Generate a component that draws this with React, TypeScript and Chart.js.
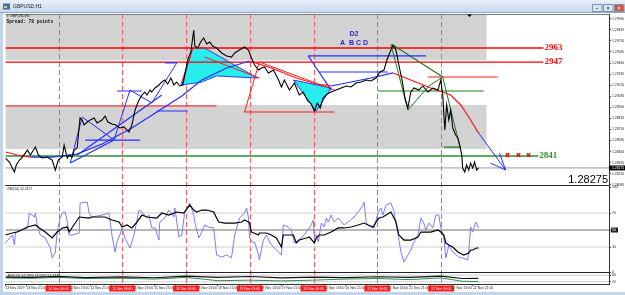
import React, { useEffect, useRef } from 'react';
import { Chart, registerables } from 'chart.js';

Chart.register(...registerables);

// ---------- data ----------
const symbolTitle = 'GBPUSD,H1';
const spreadText = 'Spread: 78 points';
const rsiTitle = 'RSI(14) 52.4117';
const indTitle = 'ADX(14) 24.1893 18.5637 14.2715';
const lastPrice = 1.28275;
const X_MAX = 227.2;

const timeLabels = ['13 Nov 2019', '13 Nov 21:00', '14 Nov 05:00', '14 Nov 13:00', '14 Nov 21:00', '15 Nov 05:00', '15 Nov 13:00', '15 Nov 21:00', '18 Nov 05:00', '18 Nov 13:00', '18 Nov 21:00', '19 Nov 05:00', '19 Nov 13:00', '19 Nov 21:00', '20 Nov 05:00', '20 Nov 13:00', '20 Nov 21:00', '21 Nov 05:00', '21 Nov 13:00', '21 Nov 21:00', '22 Nov 05:00', '22 Nov 13:00', '22 Nov 21:00'];
const separatorBars = [20, 44, 68, 92, 116, 140, 164];
const separatorLabels = ['14 Nov 09:00', '15 Nov 09:00', '18 Nov 09:00', '19 Nov 09:00', '20 Nov 09:00', '21 Nov 09:00', '22 Nov 09:00'];

const priceTicks = [1.2996, 1.29835, 1.2971, 1.29585, 1.2946, 1.29335, 1.2921, 1.29085, 1.2896, 1.28835, 1.2871, 1.28585, 1.2846, 1.28335, 1.2821, 1.28085];
const rsiTicks = [0, 30, 50, 70, 100];
const indTicks = [20, 80];

const priceBars = [0, 1.5, 2.6, 3.4, 4.1, 5.3, 6.4, 8.3, 9.4, 10.1, 11.3, 12.4, 13.9, 15.8, 17.6, 18.8, 19.9, 21.4, 22.1, 23.3, 24.0, 25.1, 25.9, 27.0, 28.1, 28.9, 29.6, 30.8, 31.9, 33.4, 34.5, 36.4, 37.5, 38.6, 40.1, 41.6, 43.1, 44.6, 45.8, 46.5, 47.6, 48.8, 49.5, 50.3, 51.4, 52.5, 53.3, 54.4, 55.1, 56.3, 57.8, 58.9, 60.0, 61.1, 62.3, 63.4, 64.5, 65.6, 66.8, 67.5, 68.6, 69.8, 70.9, 71.3, 72.4, 73.5, 74.6, 75.8, 76.9, 78.0, 79.5, 81.4, 83.3, 85.1, 86.3, 88.1, 90.0, 91.5, 92.6, 93.8, 95.3, 96.4, 97.5, 99.0, 100.9, 102.8, 103.9, 105.0, 106.9, 108.8, 110.6, 112.1, 113.6, 115.1, 116.3, 117.4, 118.5, 119.6, 121.1, 122.6, 124.5, 126.4, 128.3, 130.1, 132.0, 133.9, 135.8, 137.6, 139.5, 141.0, 142.5, 143.6, 144.8, 145.9, 147.0, 148.1, 149.3, 150.4, 151.5, 152.6, 153.8, 155.6, 157.1, 159.0, 160.9, 162.8, 163.9, 164.6, 165.4, 166.1, 166.9, 167.6, 168.4, 169.5, 170.3, 171.0, 171.8, 172.1, 172.9, 173.6, 174.4, 175.1, 175.9, 176.6, 177.4, 178.1];
const priceCloses = [1.28387, 1.28342, 1.28274, 1.28229, 1.28308, 1.28364, 1.28398, 1.28477, 1.28421, 1.28455, 1.28511, 1.28421, 1.28387, 1.28398, 1.28364, 1.28251, 1.28364, 1.28398, 1.28534, 1.28387, 1.28421, 1.28398, 1.28477, 1.285, 1.28839, 1.28816, 1.2876, 1.28794, 1.28816, 1.28839, 1.28783, 1.28816, 1.28862, 1.28794, 1.28771, 1.2876, 1.28726, 1.28738, 1.28703, 1.28681, 1.2876, 1.28929, 1.28986, 1.29042, 1.29099, 1.29133, 1.29099, 1.29155, 1.29133, 1.29178, 1.29212, 1.29246, 1.29268, 1.29223, 1.29291, 1.29212, 1.29246, 1.29201, 1.29212, 1.29325, 1.29494, 1.29585, 1.29833, 1.29653, 1.2963, 1.29698, 1.29743, 1.29675, 1.29698, 1.29653, 1.2963, 1.29574, 1.2954, 1.29528, 1.29574, 1.29607, 1.29641, 1.29607, 1.29517, 1.29438, 1.29381, 1.29404, 1.29415, 1.29348, 1.29381, 1.29268, 1.29189, 1.29268, 1.29155, 1.29234, 1.29099, 1.29133, 1.29042, 1.28997, 1.28918, 1.29009, 1.28952, 1.29065, 1.2911, 1.29133, 1.29155, 1.29178, 1.29201, 1.29189, 1.29234, 1.29246, 1.29268, 1.29257, 1.29291, 1.29359, 1.29381, 1.29494, 1.29585, 1.29664, 1.29607, 1.29438, 1.29268, 1.29065, 1.28952, 1.29133, 1.29178, 1.29155, 1.29201, 1.29133, 1.29178, 1.29155, 1.29268, 1.29099, 1.28703, 1.28986, 1.28816, 1.28929, 1.28726, 1.28647, 1.28613, 1.28534, 1.28421, 1.28274, 1.28229, 1.28308, 1.28251, 1.2833, 1.28274, 1.28342, 1.28251, 1.28275];

const maBars = [0, 4.5, 9.4, 17.6, 27.0, 36.4, 47.6, 57.0, 66.4, 73.9, 83.3, 91.9, 100.1, 109.5, 117.0, 122.6, 130.1, 137.6, 145.9, 152.6, 160.1, 167.6, 171.4, 174.4, 178.1];
const maValues = [1.28455, 1.28421, 1.28398, 1.28398, 1.28432, 1.28545, 1.28726, 1.28907, 1.29088, 1.29268, 1.29404, 1.29483, 1.29404, 1.29291, 1.29223, 1.29201, 1.29246, 1.29291, 1.29348, 1.29268, 1.29178, 1.29099, 1.28986, 1.2885, 1.28669];

const rsiBars = [0, 2.6, 3.4, 3.8, 6.4, 8.3, 9.0, 10.9, 11.3, 12.0, 13.1, 15.0, 16.9, 17.6, 18.8, 19.5, 20.6, 21.4, 22.5, 23.3, 24.0, 25.1, 27.8, 28.1, 30.8, 31.5, 32.6, 36.4, 39.0, 40.1, 41.3, 42.0, 43.1, 43.9, 45.0, 46.9, 48.4, 50.3, 51.4, 53.3, 54.0, 55.1, 56.3, 57.8, 58.1, 60.0, 61.5, 63.4, 63.8, 65.3, 66.4, 67.5, 69.4, 70.9, 71.3, 72.8, 73.9, 75.0, 76.5, 78.4, 78.8, 79.5, 81.4, 83.3, 85.1, 86.3, 88.1, 90.0, 90.8, 91.5, 91.9, 93.4, 93.8, 95.3, 95.6, 97.1, 98.3, 99.4, 100.9, 102.0, 103.9, 104.6, 106.5, 107.6, 108.8, 111.4, 113.3, 115.1, 115.9, 116.3, 117.0, 117.8, 118.9, 120.0, 120.8, 121.5, 122.6, 123.8, 125.3, 127.5, 129.0, 131.3, 132.8, 134.6, 135.0, 135.8, 136.5, 137.6, 138.8, 140.3, 141.4, 142.1, 143.3, 145.1, 146.3, 147.8, 148.9, 150.0, 152.6, 153.8, 155.3, 156.4, 157.5, 158.3, 159.4, 160.9, 162.0, 163.1, 163.9, 165.0, 165.8, 166.5, 166.9, 168.4, 170.6, 172.1, 174.0, 174.4, 175.1, 175.9, 177.0, 178.1];
const rsiValues = [34.7, 44.1, 32.4, 47.6, 50, 52.4, 70, 65.3, 70, 55.9, 44.1, 40.6, 28.8, 17.1, 24.1, 47.6, 64.1, 70, 71.2, 59.4, 44.1, 44.1, 46.5, 81.8, 82.9, 70, 65.3, 67.6, 70, 44.1, 24.1, 35.9, 44.1, 52.4, 40.6, 28.8, 44.1, 73.5, 71.2, 64.1, 67.6, 52.4, 52.4, 38.2, 59.4, 64.1, 73.5, 65.3, 75.9, 41.8, 44.1, 71.2, 81.8, 67.6, 59.4, 40.6, 47.6, 55.9, 53.5, 52.4, 40.6, 20.6, 18.2, 20.6, 17.1, 44.1, 64.1, 70, 75.9, 64.1, 40.6, 34.7, 35.9, 20.6, 14.7, 38.2, 44.1, 35.9, 30, 26.5, 20.6, 55.9, 53.5, 50, 34.7, 40.6, 47.6, 55.9, 61.8, 40.6, 44.1, 35.9, 58.2, 53.5, 64.1, 59.4, 67.6, 59.4, 64.1, 55.9, 59.4, 65.3, 71.2, 79.4, 82.9, 59.4, 55.9, 53.5, 52.4, 71.2, 75.9, 67.6, 79.4, 81.8, 71.2, 44.1, 24.1, 12.4, 26.5, 35.9, 44.1, 64.1, 58.2, 50, 58.2, 52.4, 67.6, 67.6, 52.4, 41.8, 17.1, 26.5, 32.4, 24.1, 18.2, 17.1, 14.7, 24.1, 53.5, 47.6, 59.4, 52.4];

const signalBars = [0, 2.6, 4.5, 8.3, 11.3, 12.8, 15.0, 17.6, 19.5, 21.4, 23.3, 24.0, 27.8, 31.5, 32.6, 37.5, 40.1, 42.8, 43.9, 45.8, 47.6, 49.5, 51.4, 53.3, 57.0, 58.9, 61.5, 64.5, 67.1, 69.4, 70.9, 72.0, 73.9, 75.8, 78.4, 79.5, 80.3, 82.5, 86.3, 88.9, 90.0, 91.5, 91.9, 92.6, 95.3, 95.6, 98.3, 100.1, 102.0, 103.9, 104.6, 106.5, 108.4, 109.5, 110.6, 113.3, 114.4, 116.3, 117.0, 118.1, 120.0, 122.6, 125.3, 127.5, 130.1, 132.8, 135.0, 136.5, 138.4, 139.5, 140.6, 142.1, 143.3, 145.1, 147.0, 148.1, 150.0, 152.6, 155.3, 156.4, 160.1, 162.8, 163.9, 165.0, 165.8, 166.9, 168.4, 170.3, 172.5, 174.4, 175.1, 175.9, 177.4, 178.1];
const signalValues = [44.1, 46.5, 47.6, 53.5, 55.9, 52.4, 47.6, 40.6, 47.6, 52.4, 53.5, 47.6, 65.3, 64.1, 65.3, 65.3, 61.8, 59.4, 53.5, 55.9, 52.4, 59.4, 67.6, 65.3, 64.1, 70, 67.6, 71.2, 70, 79.4, 73.5, 71.2, 73.5, 73.5, 71.2, 64.1, 59.4, 58.2, 58.2, 59.4, 61.8, 59.4, 58.2, 47.6, 44.1, 46.5, 46.5, 44.1, 40.6, 30, 44.1, 44.1, 44.1, 34.7, 38.2, 40.6, 41.8, 34.7, 40.6, 44.1, 44.1, 47.6, 52.4, 52.4, 53.5, 55.9, 58.2, 55.9, 53.5, 59.4, 64.1, 65.3, 67.6, 71.2, 59.4, 44.1, 38.2, 38.2, 41.8, 47.6, 47.6, 50, 47.6, 44.1, 34.7, 32.4, 30, 24.1, 20.6, 22.9, 26.5, 26.5, 28.8, 28.8];
const rsiLevels = [30, 50, 70];

const indBars = [0, 10, 20, 30, 44, 56, 68, 80, 92, 104, 116, 128, 140, 152, 164, 172, 178];
const indMain = [62, 60, 70, 58, 64, 57, 72, 60, 68, 55, 62, 58, 66, 60, 72, 50, 52];
const indSignal = [55, 52, 60, 50, 52, 45, 60, 30, 35, 28, 35, 45, 50, 40, 55, 25, 22];
const indLevels = [20, 80];

// supply / demand zones: [startBar, endBar, top, bottom]
const zoneStartBars = [0, 0];
const zoneEndBars = [181.1, 181.1];
const zoneTops = [1.30014, 1.28986];
const zoneBottoms = [1.29494, 1.28489];

// labelled levels
const levelLabels = ['2963', '2947', '2841'];
const levelPrices = [1.2963, 1.2947, 1.2841];
const levelEndBars = [202.5, 202.5, 200.6];

// pattern drawings (bar, price pairs)
const xabcdBars = [24.4, 28.9, 40.9, 46.9, 55.1, 64.5];
const xabcdPrices = [1.2833, 1.2885, 1.2859, 1.29155, 1.29009, 1.29461];
const cyanABars = [66.4, 70.5, 75.0, 94.9, 79.5, 73.9, 66.4];
const cyanAPrices = [1.29212, 1.2963, 1.2963, 1.29291, 1.29314, 1.29246, 1.29212];
const cyanBBars = [108.4, 122.6, 117.0, 108.4];
const cyanBPrices = [1.29268, 1.29178, 1.28918, 1.29268];
const greenZigBars = [145.1, 151.5, 159.4, 164.6, 171.4];
const greenZigPrices = [1.29675, 1.28929, 1.29201, 1.29302, 1.28477];
const blueSegments = [
  [24.4, 1.2833, 40.9, 1.2859], [27.0, 1.28421, 58.9, 1.29099], [30, 1.2859, 50.6, 1.2859],
  [42, 1.29144, 51.4, 1.29144], [57, 1.28918, 68.6, 1.28918], [60, 1.29461, 64.5, 1.29461],
  [114, 1.2954, 158.3, 1.2954], [118.1, 1.29359, 144, 1.29359], [114, 1.2954, 122.6, 1.29155],
];
const redSegments = [
  [90, 1.28907, 123.8, 1.28907], [90, 1.28907, 95.6, 1.29472], [95.6, 1.29472, 123.8, 1.29155],
  [159, 1.29302, 185.3, 1.29302], [0, 1.28975, 79.5, 1.28975], [66.0, 1.29212, 70.5, 1.29619],
  [75.0, 1.29528, 95.6, 1.29291],
];
const greenSegments = [
  [140.3, 1.29144, 180, 1.29144], [165, 1.28511, 171.4, 1.28511], [145.9, 1.29664, 164.6, 1.29302],
];
const arrowSegments = [
  [178.1, 1.28669, 188.3, 1.28251], [188.3, 1.28251, 182.6, 1.2833], [188.3, 1.28251, 186.0, 1.28443],
];
const crossBars = [189, 193.1, 196.9];
const crossPrices = [1.28421, 1.28421, 1.28421];

// ---------- helpers ----------
const zip = (xs: number[], ys: number[]) => xs.map((x, i) => ({ x, y: ys[i] }));
const segPoints = (list: number[][]) => {
  const out: { x: number; y: number | null }[] = [];
  for (const [x1, y1, x2, y2] of list) out.push({ x: x1, y: y1 }, { x: x2, y: y2 }, { x: x2, y: null });
  return out;
};
const line = (data: any[], color: string, yAxisID = 'y', extra: any = {}) => ({
  type: 'line', data, borderColor: color, backgroundColor: color, borderWidth: 1, pointRadius: 0,
  tension: 0, fill: false, yAxisID, xAxisID: 'x', spanGaps: false, ...extra,
});

const SANS = "'Liberation Sans', Arial, sans-serif";
const SMALL = 3.4;

const chromePlugin = {
  id: 'mtChrome',
  beforeDraw(chart: any) {
    const { ctx, width, height } = chart;
    ctx.save();
    ctx.fillStyle = '#c3d4ea';
    ctx.fillRect(0, 0, width, height);
    const g = ctx.createLinearGradient(0, 0, 0, 13);
    g.addColorStop(0, '#e9f0fa');
    g.addColorStop(1, '#c6d7ee');
    ctx.fillStyle = g;
    ctx.fillRect(0, 0, width, 13);
    ctx.fillStyle = '#ffffff';
    ctx.fillRect(3, 13, width - 3, 279);
    ctx.strokeStyle = '#8ea7c9';
    ctx.lineWidth = 1;
    ctx.beginPath();
    ctx.moveTo(0, 12.5); ctx.lineTo(width, 12.5);
    ctx.stroke();
    ctx.restore();
  },
  beforeDatasetsDraw(chart: any) {
    const { ctx, chartArea, scales } = chart;
    const x = scales.x, y = scales.y;
    ctx.save();
    ctx.beginPath();
    ctx.rect(chartArea.left, y.top, chartArea.right - chartArea.left, y.bottom - y.top);
    ctx.clip();
    ctx.fillStyle = '#d3d3d3';
    zoneTops.forEach((t, i) => {
      const x1 = x.getPixelForValue(zoneStartBars[i]);
      const x2 = x.getPixelForValue(zoneEndBars[i]);
      const y1 = y.getPixelForValue(t);
      const y2 = y.getPixelForValue(zoneBottoms[i]);
      ctx.fillRect(x1, y1, x2 - x1, y2 - y1);
    });
    ctx.restore();
    ctx.save();
    ctx.strokeStyle = '#ff5a5a';
    ctx.lineWidth = 1;
    ctx.setLineDash([5, 3]);
    separatorBars.forEach((b) => {
      const px = Math.round(x.getPixelForValue(b)) + 0.5;
      ctx.beginPath();
      ctx.moveTo(px, chartArea.top);
      ctx.lineTo(px, chartArea.bottom);
      ctx.stroke();
    });
    ctx.restore();
  },
  afterDatasetsDraw(chart: any) {
    const { ctx, scales } = chart;
    const x = scales.x, y = scales.y;
    ctx.save();
    ctx.textBaseline = 'middle';
    ctx.textAlign = 'left';
    ctx.font = "bold 9px 'Liberation Serif', 'Times New Roman', serif";
    levelLabels.forEach((lab, i) => {
      ctx.fillStyle = i < 2 ? '#ff1010' : '#2f8f2f';
      ctx.fillText(lab, x.getPixelForValue(levelEndBars[i]) + 1, y.getPixelForValue(levelPrices[i]));
    });
    ctx.fillStyle = '#2a2ad8';
    ctx.textAlign = 'center';
    ctx.font = `bold 7px ${SANS}`;
    ctx.fillText('D2', x.getPixelForValue(131.2), y.getPixelForValue(1.29788));
    ctx.fillText('A  B C D', x.getPixelForValue(131.2), y.getPixelForValue(1.29682));
    ctx.fillStyle = '#000';
    ctx.textAlign = 'right';
    ctx.textBaseline = 'alphabetic';
    ctx.font = `11px ${SANS}`;
    ctx.fillText(lastPrice.toFixed(5), x.right - 1, y.bottom - 3);
    ctx.restore();
  },
  afterDraw(chart: any) {
    const { ctx, chartArea, scales, width } = chart;
    const x = scales.x, y = scales.y, rsi = scales.rsi;
    ctx.save();
    // pane separators
    ctx.strokeStyle = '#222';
    ctx.lineWidth = 1;
    [y.bottom, rsi.bottom].forEach((py: number) => {
      ctx.beginPath();
      ctx.moveTo(chartArea.left, Math.round(py) - 0.5);
      ctx.lineTo(chartArea.right, Math.round(py) - 0.5);
      ctx.stroke();
    });
    ctx.strokeStyle = '#777';
    ctx.beginPath();
    ctx.moveTo(chartArea.left, chartArea.top + 0.5);
    ctx.lineTo(chartArea.right, chartArea.top + 0.5);
    ctx.stroke();
    // red time boxes
    separatorBars.forEach((b, i) => {
      const px = x.getPixelForValue(b);
      ctx.fillStyle = '#ff1a1a';
      ctx.fillRect(px - 13, chartArea.bottom + 1.5, 26, 6);
      ctx.fillStyle = '#ffffff';
      ctx.font = `${SMALL}px ${SANS}`;
      ctx.textAlign = 'center';
      ctx.textBaseline = 'middle';
      ctx.fillText(separatorLabels[i], px, chartArea.bottom + 4.6);
    });
    // axis value boxes
    const py = y.getPixelForValue(lastPrice);
    ctx.fillStyle = '#000';
    ctx.fillRect(chartArea.right, py - 2.5, width - chartArea.right, 5);
    ctx.fillStyle = '#fff';
    ctx.textAlign = 'left';
    ctx.fillText(lastPrice.toFixed(5), chartArea.right + 3, py + 0.2);
    const p50 = rsi.getPixelForValue(50);
    ctx.fillStyle = '#222';
    ctx.fillRect(chartArea.right + 2, p50 - 2.5, 7, 5);
    ctx.fillStyle = '#fff';
    ctx.fillText('50', chartArea.right + 3, p50 + 0.2);
    // pane titles
    ctx.fillStyle = '#111';
    ctx.textBaseline = 'middle';
    ctx.font = `${SMALL}px ${SANS}`;
    ctx.fillText('\u25BE ' + symbolTitle, chartArea.left + 2, chartArea.top + 2.5);
    ctx.font = "bold 4.6px 'Liberation Mono', 'DejaVu Sans Mono', monospace";
    ctx.fillText(spreadText, chartArea.left + 1, chartArea.top + 7.5);
    ctx.font = `${SMALL}px ${SANS}`;
    ctx.fillText(rsiTitle, chartArea.left + 2, rsi.top + 3);
    ctx.fillText(indTitle, chartArea.left + 2, scales.ind.top + 3);
    // shift marker
    ctx.fillStyle = '#000';
    ctx.beginPath();
    ctx.moveTo(467, chartArea.top + 0.5);
    ctx.lineTo(472, chartArea.top + 0.5);
    ctx.lineTo(469.5, chartArea.top + 3);
    ctx.closePath();
    ctx.fill();
    // title bar
    ctx.fillStyle = '#3b6fb0';
    ctx.fillRect(3, 3.5, 7, 6);
    ctx.fillStyle = '#f4c542';
    ctx.fillRect(4, 6, 3, 2);
    ctx.fillStyle = '#1b1b1b';
    ctx.font = `5px ${SANS}`;
    ctx.textBaseline = 'middle';
    ctx.fillText(symbolTitle, 13, 7);
    const btn = (bx: number, fill: string, glyph: string, color: string) => {
      ctx.fillStyle = fill;
      ctx.fillRect(bx, 4.5, 10, 7);
      ctx.strokeStyle = '#7c94b6';
      ctx.strokeRect(bx + 0.5, 4.5, 9.5, 7);
      ctx.fillStyle = color;
      ctx.font = `bold 5px ${SANS}`;
      ctx.textAlign = 'center';
      ctx.fillText(glyph, bx + 5, 8.2);
    };
    btn(592, '#dbe5f2', '\u2013', '#333');
    btn(603, '#dbe5f2', '\u00D7', '#333');
    btn(614, '#d9533f', '\u00D7', '#fff');
    ctx.restore();
  },
};

export default function App() {
  const ref = useRef<HTMLCanvasElement>(null);
  useEffect(() => {
    if (!ref.current) return;
    const yAxis = (weight: number, stackWeight: number, min: number, max: number, ticks: number[], fmt: (v: number) => string) => ({
      type: 'linear', position: 'right', stack: 'panes', stackWeight, weight, min, max,
      grid: { drawOnChartArea: false, drawTicks: true, tickLength: 2, color: '#555' },
      border: { display: true, color: '#333', width: 1 },
      ticks: { font: { size: SMALL, family: SANS }, color: '#222', padding: 1, autoSkip: false, callback: (v: any) => fmt(Number(v)) },
      afterBuildTicks: (s: any) => { s.ticks = ticks.map((value) => ({ value })); },
      afterFit: (s: any) => { s.width = 16; s.paddingTop = 0; s.paddingBottom = 0; s.paddingLeft = 0; s.paddingRight = 0; },
    });

    const datasets: any[] = [
      line(zip(priceBars, priceCloses), '#000000', 'y', { borderWidth: 1.1 }),
      line(zip(crossBars, crossPrices), '#ff0000', 'y', { showLine: false, pointRadius: 2.4, pointStyle: 'crossRot', borderWidth: 1.4 }),
      line(zip(maBars, maValues), '#1f2fff', 'y', {
        borderWidth: 1.2,
        segment: { borderColor: (c: any) => (c.p1.parsed.y >= c.p0.parsed.y ? '#1f2fff' : '#ff1a1a') },
      }),
      line(segPoints(arrowSegments), '#1f2fff', 'y'),
      line(zip(xabcdBars, xabcdPrices), '#2430ff', 'y'),
      line(segPoints(blueSegments), '#2430ff', 'y', { borderWidth: 1.2 }),
      line(zip(greenZigBars, greenZigPrices), '#1f7a1f', 'y'),
      line(segPoints(greenSegments), '#1f7a1f', 'y', { borderWidth: 1.2 }),
      line(segPoints(redSegments), '#ff1a1a', 'y'),
      line(segPoints(levelPrices.slice(0, 2).map((p, i) => [0, p, levelEndBars[i], p])), '#ff0000', 'y', { borderWidth: 1.4 }),
      line(segPoints([[0, levelPrices[2], levelEndBars[2], levelPrices[2]]]), '#2f8f2f', 'y', { borderWidth: 1.4 }),
      line(segPoints([[0, lastPrice, X_MAX, lastPrice]]), '#9a9a9a', 'y'),
      line(zip(cyanABars, cyanAPrices), '#2a3cff', 'y', { fill: 'shape', backgroundColor: '#27eded' }),
      line(zip(cyanBBars, cyanBPrices), '#2a3cff', 'y', { fill: 'shape', backgroundColor: '#27eded' }),
      // RSI pane
      line(zip(signalBars, signalValues), '#000000', 'rsi', { borderWidth: 1.2 }),
      line(zip(rsiBars, rsiValues), '#7a7cff', 'rsi'),
      line(segPoints([[0, rsiLevels[1], X_MAX, rsiLevels[1]]]), '#6e6e6e', 'rsi'),
      line(segPoints([[0, rsiLevels[0], X_MAX, rsiLevels[0]], [0, rsiLevels[2], X_MAX, rsiLevels[2]]]), '#cfcfcf', 'rsi'),
      // indicator pane
      line(zip(indBars, indMain), '#111111', 'ind', { borderWidth: 1.2 }),
      line(zip(indBars, indSignal), '#2e8b57', 'ind'),
      line(segPoints(indLevels.map((v) => [0, v, X_MAX, v])), '#9a9a9a', 'ind', { borderDash: [1, 1] }),
    ];

    const chart = new Chart(ref.current, {
      type: 'line',
      data: { datasets },
      options: {
        responsive: false,
        animation: false,
        devicePixelRatio: 1,
        events: [],
        layout: { padding: { top: 14, left: 3, right: 0, bottom: 3 } },
        plugins: { legend: { display: false }, tooltip: { enabled: false }, title: { display: false } },
        scales: {
          x: {
            type: 'linear', position: 'bottom', min: 0, max: X_MAX,
            grid: { drawOnChartArea: false, drawTicks: true, tickLength: 2, color: '#666' },
            border: { display: true, color: '#333' },
            ticks: {
              autoSkip: false, maxRotation: 0, minRotation: 0, align: 'start', padding: 0,
              font: { size: SMALL, family: SANS }, color: '#222',
              callback: (_v: any, i: number) => timeLabels[i] ?? '',
            },
            afterBuildTicks: (s: any) => { s.ticks = timeLabels.map((_, i) => ({ value: i * 8 })); },
            afterFit: (s: any) => { s.height = 8; s.paddingLeft = 0; s.paddingRight = 0; },
          },
          y: yAxis(1, 172, 1.28071, 1.30014, priceTicks, (v) => v.toFixed(5)),
          rsi: yAxis(2, 87, -0.6, 101.8, rsiTicks, (v) => String(v)),
          ind: yAxis(3, 11, 0, 100, indTicks, (v) => String(v)),
        } as any,
      },
      plugins: [chromePlugin],
    } as any);
    return () => chart.destroy();
  }, []);

  return (
    <div style={{ position: 'fixed', left: 0, top: 0, width: 625, height: 295, overflow: 'hidden' }}>
      <canvas ref={ref} width={625} height={295} style={{ display: 'block', width: 625, height: 295 }} />
    </div>
  );
}
